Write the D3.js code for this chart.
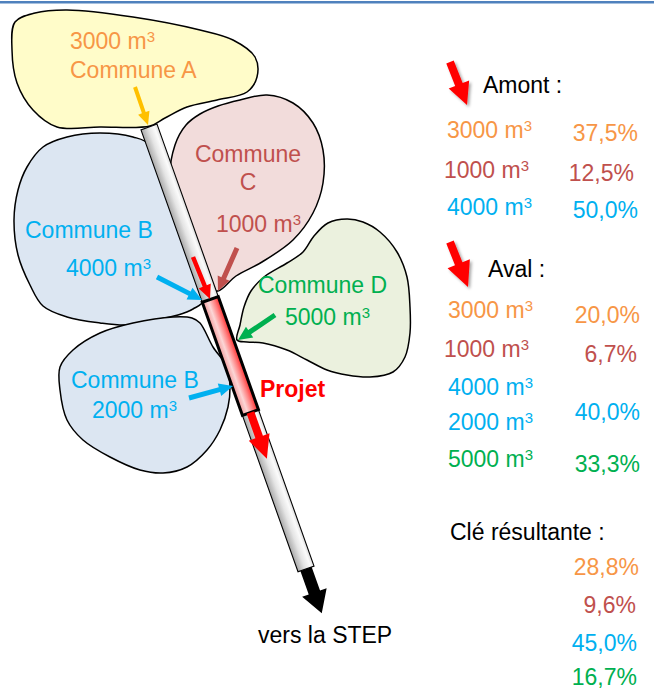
<!DOCTYPE html>
<html><head><meta charset="utf-8">
<script src="https://cdn.jsdelivr.net/npm/d3@7"></script>
<style>
body{margin:0;background:#fff}
svg{display:block}
text{font-family:"Liberation Sans",Arial,Helvetica,sans-serif}
</style>
</head><body>
<svg id="c" width="654" height="690"></svg>
<script>
// ---------------- DATA ----------------
const communes = ["Commune A", "Commune B", "Commune C", "Commune D", "Commune B"];
const communeVolumes = [3000, 4000, 1000, 5000, 2000];
const amontVolumes = [3000, 1000, 4000];
const amontCommunes = ["Commune A", "Commune C", "Commune B"];
const amontKeys = ["37,5%", "12,5%", "50,0%"];
const avalVolumes = [3000, 1000, 4000, 2000, 5000];
const avalCommunes = ["Commune A", "Commune C", "Commune B", "Commune B", "Commune D"];
const avalKeys = ["20,0%", "6,7%", "40,0%", "33,3%"];
const avalKeyCommunes = ["Commune A", "Commune C", "Commune B", "Commune D"];
const cleResultante = ["28,8%", "9,6%", "45,0%", "16,7%"];
const cleCommunes = ["Commune A", "Commune C", "Commune B", "Commune D"];
const titles = ["Amont :", "Aval :", "Clé résultante :"];
const projetLabel = "Projet";
const stepLabel = "vers la STEP";

// ---------------- SCALES / STYLE ----------------
const color = d3.scaleOrdinal()
  .domain(["Commune A", "Commune B", "Commune C", "Commune D"])
  .range(["#f79646", "#00b0f0", "#c0504d", "#00b050"]);
const blobFill = d3.scaleOrdinal()
  .domain(["Commune A", "Commune B", "Commune C", "Commune D"])
  .range(["#fffcc9", "#dce6f2", "#f2dcdb", "#ebf1de"]);
const arrowColor = d3.scaleOrdinal()
  .domain(["Commune A", "Commune B", "Commune C", "Commune D"])
  .range(["#ffc000", "#00b0f0", "#c0504d", "#00b050"]);
const FS = 23;
const vol = v => String(v) + " m";

const svg = d3.select("#c");
const defs = svg.append("defs");

const pg = defs.append("linearGradient").attr("id", "pipeGrad").attr("x1", 0).attr("x2", 1).attr("y1", 0).attr("y2", 0);
[[0, "#a9a9a9"], [0.45, "#e4e4e4"], [0.8, "#fbfbfb"], [1, "#dcdcdc"]].forEach(s => pg.append("stop").attr("offset", s[0]).attr("stop-color", s[1]));
const rg = defs.append("linearGradient").attr("id", "projGrad").attr("x1", 0).attr("x2", 1).attr("y1", 0).attr("y2", 0);
[[0, "#f39a9a"], [0.35, "#fcd6d6"], [0.7, "#ff8080"], [1, "#ff2a2a"]].forEach(s => rg.append("stop").attr("offset", s[0]).attr("stop-color", s[1]));
const sh = defs.append("filter").attr("id", "shadow").attr("x", "-50%").attr("y", "-50%").attr("width", "200%").attr("height", "200%");
sh.append("feDropShadow").attr("dx", 2).attr("dy", 2).attr("stdDeviation", 1.6).attr("flood-color", "#000").attr("flood-opacity", 0.35);

// top rule
svg.append("rect").attr("x", 0).attr("y", 1).attr("width", 654).attr("height", 2.5).attr("fill", "#4f81bd");

// ---------------- BLOBS ----------------
const blobLine = d3.line().curve(d3.curveCatmullRomClosed.alpha(0.5));
const blobs = [
  {c: "Commune A", pts: [[15,22],[35,13],[67,10],[133,17],[200,30],[233,40],[255,57],[257,77],[247,92],[217,100],[187,107],[165,118],[150,126],[100,127],[57,127],[33,110],[17,83],[12,50]]},
  {c: "Commune B", pts: [[43,147],[67,137],[100,133],[133,137],[150,145],[168,200],[190,260],[204,300],[193,309],[178,315],[155,320],[127,325],[100,323],[67,317],[43,306],[30,285],[18,255],[14,220],[18,190],[27,167]]},
  {c: "Commune B", pts: [[60,367],[73,350],[100,333],[133,323],[173,317],[192,318],[200,323],[213,347],[227,367],[230,387],[228,407],[220,430],[207,450],[187,467],[163,473],[140,470],[110,457],[83,440],[67,420],[60,390]]},
  {c: "Commune C", pts: [[170,180],[175,145],[186,125],[200,114],[218,106],[240,100],[267,95],[293,103],[313,123],[323,150],[323,183],[313,213],[293,240],[262,262],[236,276],[218,291],[206,286],[187,240]]},
  {c: "Commune D", pts: [[237,340],[240,325],[244,307],[251,291],[264,277],[287,263],[303,252],[314,236],[328,223],[347,219],[363,222],[380,232],[397,252],[407,277],[410,307],[410,333],[405,357],[393,372],[370,377],[347,375],[327,370],[307,360],[287,350],[263,343],[247,342]]}
];
svg.append("g").selectAll("path").data(blobs).join("path")
  .attr("d", d => blobLine(d.pts))
  .attr("fill", d => blobFill(d.c))
  .attr("stroke", "#000").attr("stroke-width", 1.5).attr("stroke-linejoin", "round");

// ---------------- ARROW HELPER ----------------
function arrowPts(x0, y0, x1, y1, sw, hw, hl) {
  const dx = x1 - x0, dy = y1 - y0, L = Math.hypot(dx, dy);
  const ux = dx / L, uy = dy / L, px = -uy, py = ux;
  const bx = x1 - ux * hl, by = y1 - uy * hl;
  return [
    [x0 + px * sw / 2, y0 + py * sw / 2],
    [bx + px * sw / 2, by + py * sw / 2],
    [bx + px * hw / 2, by + py * hw / 2],
    [x1, y1],
    [bx - px * hw / 2, by - py * hw / 2],
    [bx - px * sw / 2, by - py * sw / 2],
    [x0 - px * sw / 2, y0 - py * sw / 2]
  ];
}
const poly = d3.line();
function arrow(g, x0, y0, x1, y1, sw, hw, hl, fill) {
  return g.append("path").attr("d", poly(arrowPts(x0, y0, x1, y1, sw, hw, hl)) + "Z").attr("fill", fill);
}

// ---------------- PIPE ----------------
const pipeLen = 469, pipeW = 17;
const pipe = svg.append("g").attr("transform", "translate(149,127) rotate(-19.56)");
pipe.append("rect").attr("x", -pipeW / 2).attr("y", 0).attr("width", pipeW).attr("height", pipeLen)
  .attr("fill", "url(#pipeGrad)").attr("stroke", "#000").attr("stroke-width", 1.1);
pipe.append("rect").attr("x", -pipeW / 2).attr("y", 183).attr("width", pipeW).attr("height", 120)
  .attr("fill", "url(#projGrad)").attr("stroke", "#000").attr("stroke-width", 3);
arrow(pipe, 0, 303, 0, 352, 8, 22, 23, "#ff0000");
arrow(pipe, 0, pipeLen, 0, 516, 12, 26, 22, "#000");

// ---------------- COMMUNE ARROWS ----------------
const ag = svg.append("g");
arrow(ag, 135, 87, 148, 125, 4, 12, 13, arrowColor("Commune A"));
arrow(ag, 237, 248, 218, 291, 5, 13, 14, arrowColor("Commune C"));
arrow(ag, 157, 277, 202, 300, 5, 13, 14, arrowColor("Commune B"));
arrow(ag, 193, 257, 210, 299, 4.5, 13, 14, "#ff0000");
arrow(ag, 275, 315, 238, 340, 5, 13, 14, arrowColor("Commune D"));
arrow(ag, 189, 398, 233, 386, 5, 13, 14, arrowColor("Commune B"));

// ---------------- TEXT HELPERS ----------------
function volText(g, x, y, v, fill, anchor) {
  const t = g.append("text").attr("x", x).attr("y", y).attr("font-size", FS).attr("fill", fill)
    .attr("text-anchor", anchor || "start");
  t.append("tspan").text(vol(v));
  t.append("tspan").attr("font-size", 15).attr("dy", -7).text("3");
  return t;
}
function txt(g, x, y, s, fill, anchor, weight) {
  return g.append("text").attr("x", x).attr("y", y).attr("font-size", FS).attr("fill", fill)
    .attr("text-anchor", anchor || "start").attr("font-weight", weight || "normal").text(s);
}

const tg = svg.append("g");
// Commune A
volText(tg, 70, 49, communeVolumes[0], color(communes[0]));
txt(tg, 70, 78, communes[0], color(communes[0]));
// Commune C
txt(tg, 248, 162, communes[2].split(" ")[0], color(communes[2]), "middle");
txt(tg, 248, 190, communes[2].split(" ")[1], color(communes[2]), "middle");
volText(tg, 216, 232, communeVolumes[2], color(communes[2]));
// Commune B (upper)
txt(tg, 25, 238, communes[1], color(communes[1]));
volText(tg, 66, 276, communeVolumes[1], color(communes[1]));
// Commune D
txt(tg, 258, 293, communes[3], color(communes[3]));
volText(tg, 285, 325, communeVolumes[3], color(communes[3]));
// Commune B (lower)
txt(tg, 71, 388, communes[4], color(communes[4]));
volText(tg, 92, 418, communeVolumes[4], color(communes[4]));
// Projet / STEP
txt(tg, 260, 397, projetLabel, "#ff0000", "start", "bold");
txt(tg, 258, 643, stepLabel, "#000");

// ---------------- RIGHT PANEL ----------------
const rp = svg.append("g");
const legArrows = rp.append("g").attr("filter", "url(#shadow)");
arrow(legArrows, 450, 62, 467, 105, 8, 22, 22, "#ff0000");
arrow(legArrows, 450, 242, 468, 287, 8, 24, 25, "#ff0000");
txt(rp, 483, 93, titles[0], "#000");
txt(rp, 488, 277, titles[1], "#000");
txt(rp, 450, 540, titles[2], "#000");

const amontY = [138, 178, 215], amontX = [447, 444, 447], amontPX = [638, 634, 638];
amontVolumes.forEach((v, i) => {
  volText(rp, amontX[i], amontY[i], v, color(amontCommunes[i]));
  txt(rp, amontPX[i], amontY[i] + 3, amontKeys[i], color(amontCommunes[i]), "end");
});
const avalY = [318, 357, 395, 430, 467], avalX = [448, 444, 448, 448, 448];
avalVolumes.forEach((v, i) => volText(rp, avalX[i], avalY[i], v, color(avalCommunes[i])));
const avalPY = [323, 362, 420, 472], avalPX = [640, 637, 640, 640];
avalKeys.forEach((k, i) => txt(rp, avalPX[i], avalPY[i], k, color(avalKeyCommunes[i]), "end"));
const cleY = [575, 613, 651, 685], clePX = [639, 636, 637, 637];
cleResultante.forEach((k, i) => txt(rp, clePX[i], cleY[i], k, color(cleCommunes[i]), "end"));
</script>
</body></html>
